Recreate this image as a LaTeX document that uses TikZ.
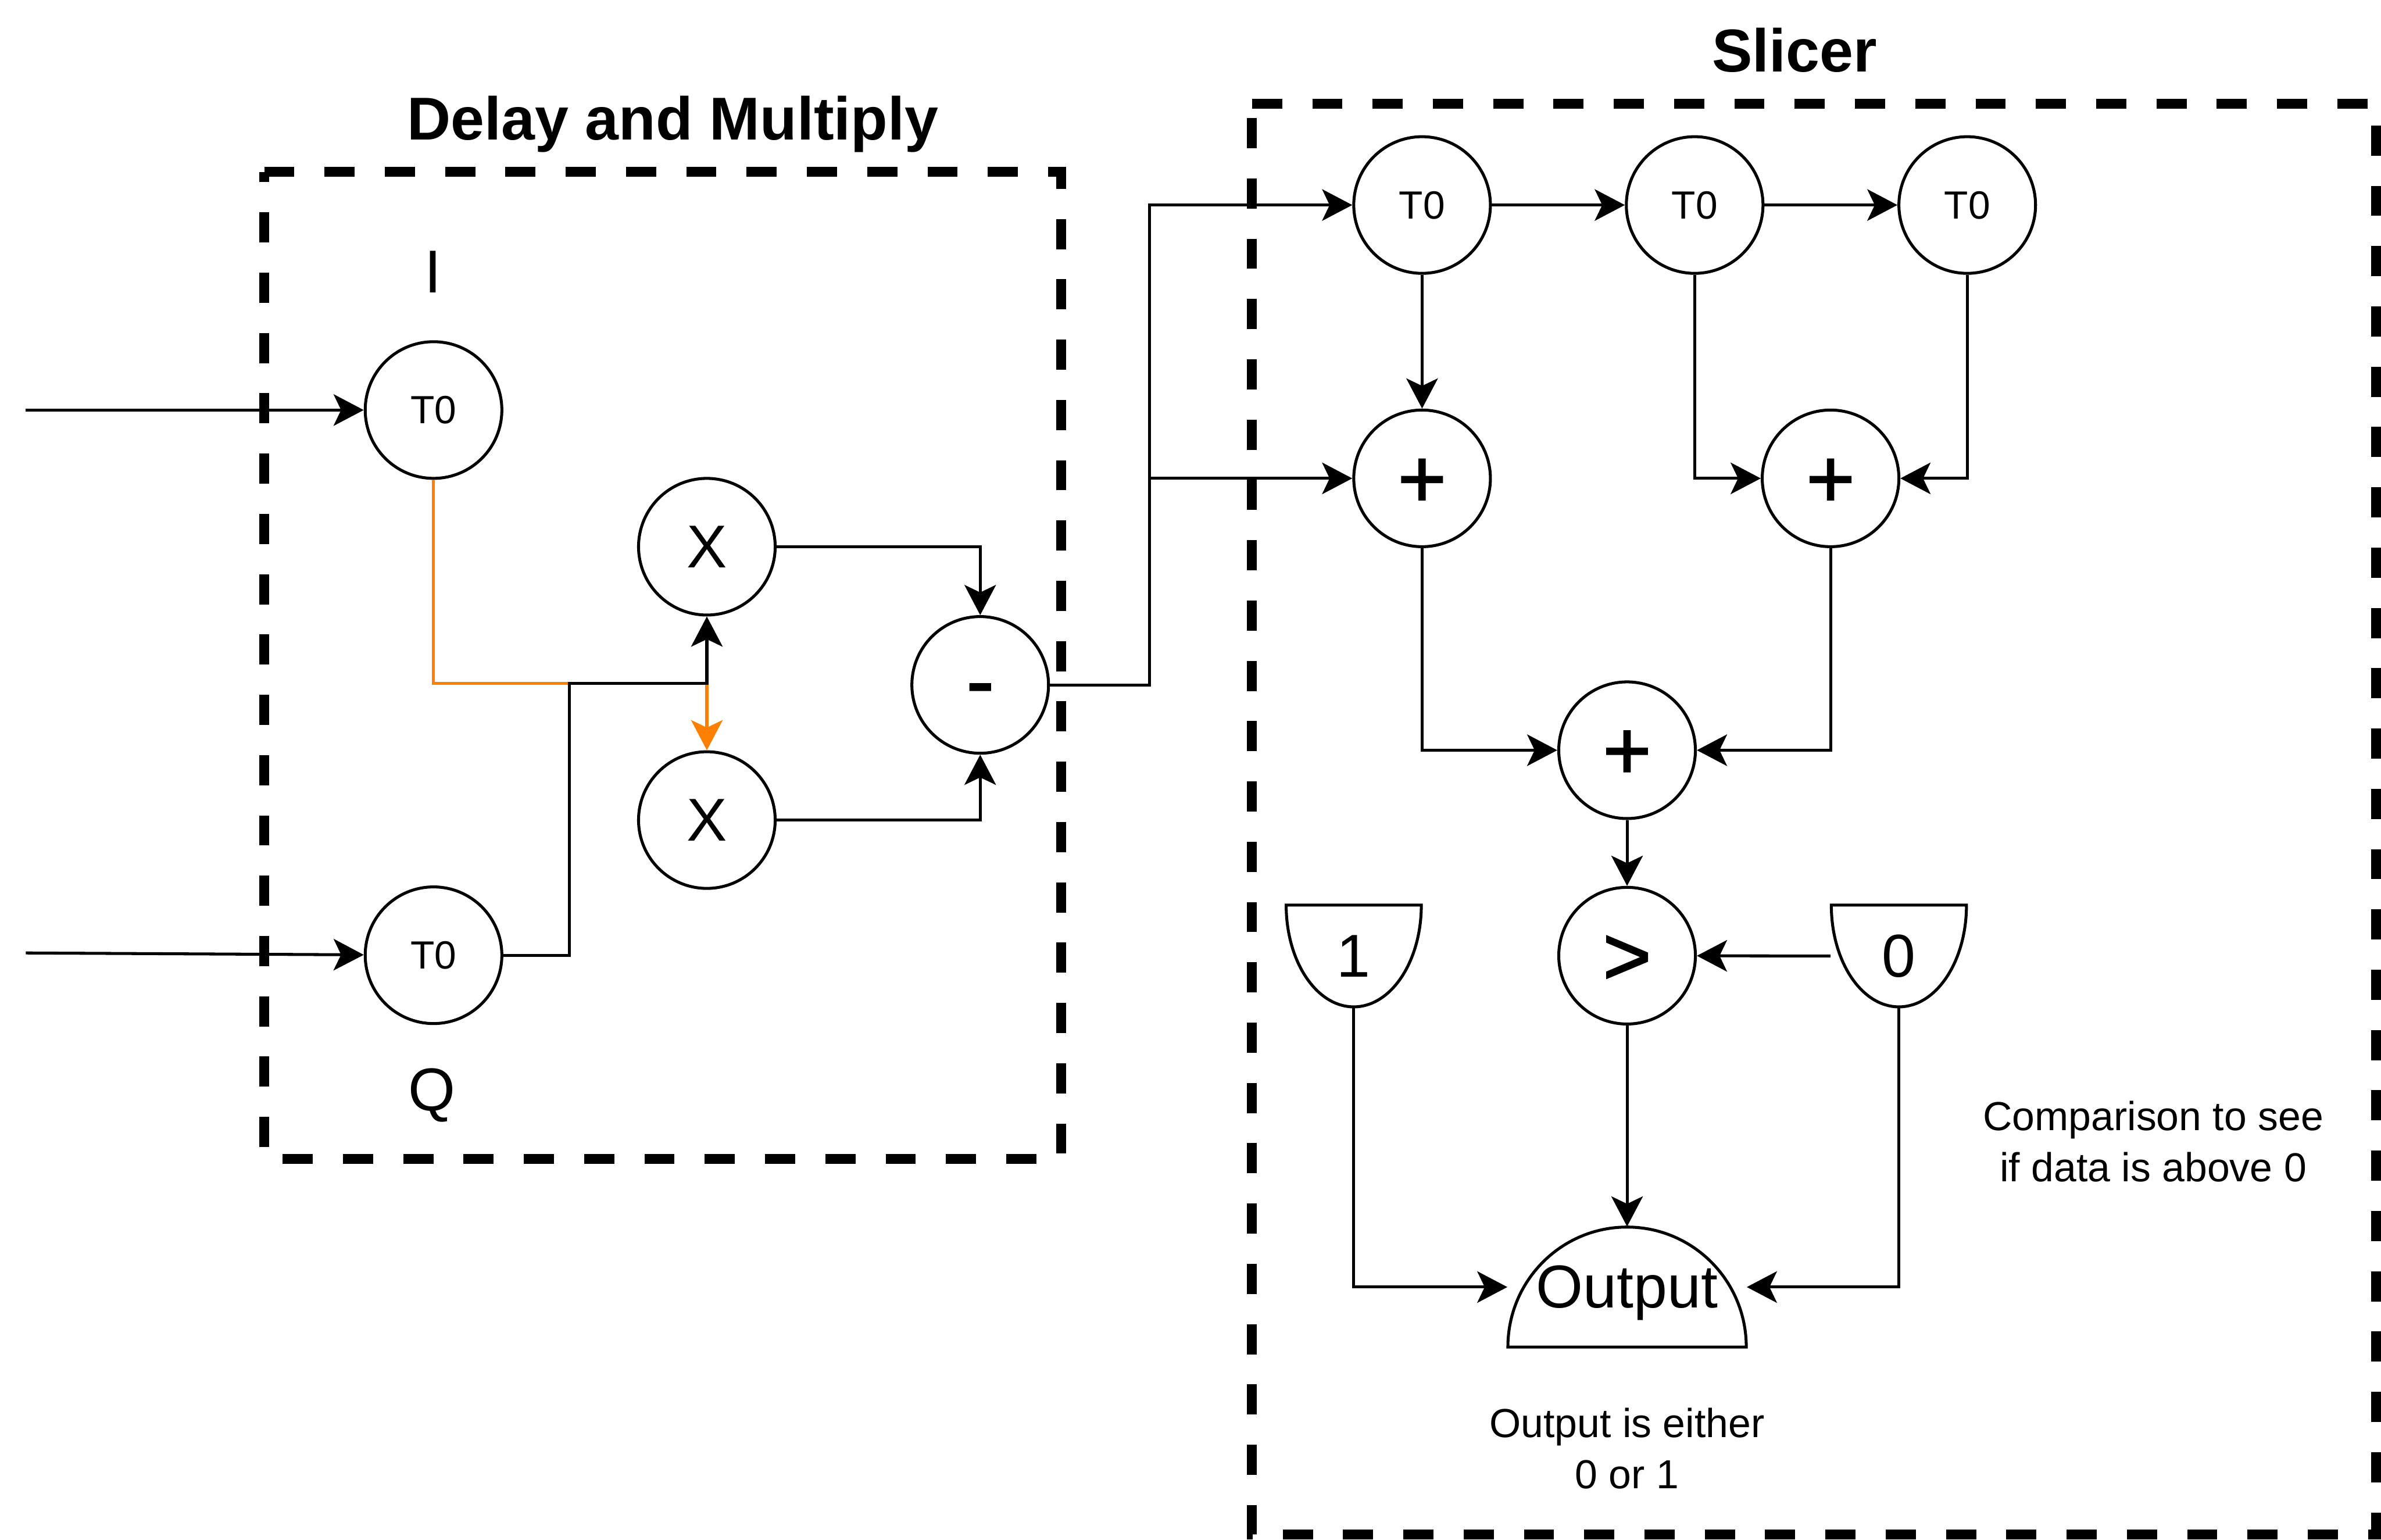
\documentclass[tikz,border=0pt]{standalone}
\usepackage{fontspec}
\setmainfont{Liberation Sans}
\newfontfamily\opfont[FakeBold=1.6]{Liberation Sans}
\usetikzlibrary{arrows.meta}
\definecolor{dorange}{RGB}{255,128,0}
\begin{document}
\begin{tikzpicture}[x=0.02cm,y=-0.02cm,
  wire/.style={line width=1.1pt},
  conn/.style={wire,-{Stealth[length=11.3pt,width=11.8pt,inset=2.8pt]}},
  oconn/.style={conn,color=dorange},
  dbox/.style={line width=3.7pt,dash pattern=on 11.3pt off 11.3pt,line join=miter},
  circ/.style={circle,draw,line width=1.1pt,minimum size=1.8cm,inner sep=0pt,
    font=\fontsize{14.74pt}{17.7pt}\selectfont,text height=13.3pt,text depth=3.1pt},
  bigtxt/.style={font=\fontsize{22.68pt}{27.2pt}\selectfont,text height=20.5pt,text depth=4.8pt},
  optxt/.style={font=\opfont\fontsize{31.2pt}{37.4pt}\selectfont,text height=28.2pt,text depth=6.6pt},
  titletxt/.style={font=\bfseries\fontsize{22.68pt}{27.2pt}\selectfont,anchor=base,inner sep=0pt},
  labtxt/.style={font=\fontsize{22.68pt}{27.2pt}\selectfont,anchor=base,inner sep=0pt},
  captxt/.style={font=\fontsize{15.2pt}{19.16pt}\selectfont,align=center,inner sep=0pt},
  dshape/.style={rectangle,inner sep=0pt,bigtxt}
]
\useasboundingbox (0,0) rectangle (1568,1014);

% group boxes
\draw[dbox] (174,113.3) -- (699,113.3) -- (699,763) -- (174,763) -- cycle;
\draw[dbox] (824.5,68.4) -- (1564.7,68.4) -- (1564.7,1010.5) -- (824.5,1010.5) -- cycle;

% titles and labels
\node[titletxt] (t1) at (443,91.9) {Delay and Multiply};
\node[titletxt] (t2) at (1181.7,47.2) {Slicer};
\node[labtxt] (lI) at (285,192.7) {I};
\node[labtxt] (lQ) at (284.6,731.4) {Q};
\node[captxt] (c1) at (1418,751.8) {Comparison to see\\if data is above 0};
\node[captxt] (c2) at (1071.4,953.9) {Output is either\\0 or 1};

% delay and multiply nodes
\node[circ] (tI) at (285.5,270) {T0};
\node[circ] (tQ) at (285.5,629) {T0};
\node[circ,bigtxt] (mulA) at (465.5,360) {X};
\node[circ,bigtxt] (mulB) at (465.5,540) {X};
\node[circ,optxt,text depth=10pt] (minus) at (645.5,451) {-};

% slicer nodes
\node[circ] (ta) at (936.5,135) {T0};
\node[circ] (tb) at (1116,135) {T0};
\node[circ] (tc) at (1295.5,135) {T0};
\node[circ,optxt] (p1) at (936.5,315) {+};
\node[circ,optxt] (p2) at (1205.5,315) {+};
\node[circ,optxt] (p3) at (1071.5,494) {+};
\node[circ,optxt] (gt) at (1071.5,629.3) {>};

\node[dshape,minimum width=1.78cm,minimum height=1.34cm] (one) at (891.5,629.5) {1};
\node[dshape,minimum width=1.79cm,minimum height=1.34cm] (zero) at (1250.5,629.5) {0};
\node[dshape,minimum width=3.14cm,minimum height=1.58cm] (out) at (1071.5,847.5) {Output};

% shape outlines
\draw[wire] (847,596) .. controls (847,633) and (866.9,663) .. (891.5,663)
  .. controls (916.1,663) and (936,633) .. (936,596) -- cycle;
\draw[wire] (1206,596) .. controls (1206,633) and (1225.9,663) .. (1250.5,663)
  .. controls (1275.1,663) and (1295,633) .. (1295,596) -- cycle;
\draw[wire] (993,887) .. controls (993,843.4) and (1028.1,808) .. (1071.5,808)
  .. controls (1114.9,808) and (1150,843.4) .. (1150,887) -- cycle;

% coordinates
\coordinate (inI) at (17,270);
\coordinate (inQ) at (17,627.5);
\coordinate (jb) at (375,450);
\coordinate (jn) at (465.5,450);
\coordinate (jr) at (757,135);
\coordinate (jm) at (757,315);

% connectors (left)
\draw[conn] (inI) -- (tI);
\draw[conn] (inQ) -- (tQ);
\draw[oconn] (tI) |- (jn) -- (mulB);
\draw[conn] (tQ) -| (jb) -- (jn) -- (mulA);
\draw[conn] (mulA) -| (minus);
\draw[conn] (mulB) -| (minus);
\draw[conn] (minus) -| (jr) -- (ta);
\draw[conn] (jm) -- (p1);

% connectors (slicer)
\draw[conn] (ta) -- (tb);
\draw[conn] (tb) -- (tc);
\draw[conn] (ta) -- (p1);
\draw[conn] (tb) |- (p2);
\draw[conn] (tc) |- (p2);
\draw[conn] (p1) |- (p3);
\draw[conn] (p2) |- (p3);
\draw[conn] (p3) -- (gt);
\draw[conn] (zero.west) -- (gt);
\draw[conn] (gt) -- (out);
\draw[conn] (one.south) |- (out.west);
\draw[conn] (zero.south) |- (out.east);
\end{tikzpicture}
\end{document}
